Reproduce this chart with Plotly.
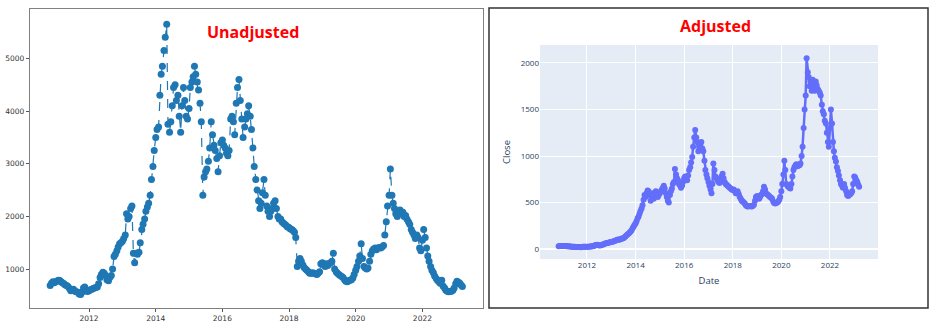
import pandas as pd
import plotly.graph_objects as go

# Semi-monthly closing prices (1st and 15th of each month), Nov 2010 - Mar 2023
close_unadjusted = (
    [690, 730, 760, 740]  # 2010 (Nov-Dec)
    + [760, 775, 790, 785, 760, 740, 720, 700, 690, 670, 630, 590,
       600, 620, 580, 570, 560, 530, 520, 560, 640, 660, 590, 575]  # 2011
    + [590, 610, 620, 630, 640, 650, 660, 720, 840, 900, 940, 920,
       880, 800, 780, 840, 880, 1000, 1240, 1280, 1350, 1420, 1480, 1500]  # 2012
    + [1530, 1580, 1650, 2050, 1950, 2000, 2150, 2200, 1300, 1120, 1300, 1280,
       1320, 1500, 1750, 1850, 1950, 2100, 2180, 2250, 2400, 2700, 2950, 3250]  # 2013
    + [3500, 3650, 3700, 4300, 4700, 4850, 5150, 5400, 5650, 3750, 3600, 3800,
       4100, 4450, 4500, 4200, 4300, 3900, 3600, 4100, 4450, 4200, 3900, 3850]  # 2014
    + [4050, 4450, 4550, 4650, 4850, 4700, 4550, 4400, 4150, 3800, 2400, 2750,
       2850, 2900, 3050, 3300, 3800, 3550, 3350, 3250, 3100, 2850, 3150, 3400]  # 2015
    + [3450, 3350, 3300, 3200, 3150, 3250, 3850, 3900, 3800, 3550, 4150, 4450,
       4600, 4200, 3850, 3500, 3700, 3850, 3950, 4100, 3900, 3650, 3300, 2950]  # 2016
    + [2700, 2500, 2300, 2150, 2250, 2450, 2700, 2400, 2200, 2100, 2000, 2100,
       2150, 2250, 2300, 2150, 2000, 1950, 1950, 1900, 1870, 1850, 1830, 1800]  # 2017
    + [1790, 1760, 1750, 1730, 1700, 1600, 1050, 1150, 1200, 1150, 1080, 1030,
       1000, 980, 950, 920, 920, 930, 920, 910, 900, 920, 950, 1100]  # 2018
    + [1120, 1080, 1050, 1100, 1070, 1100, 1120, 1150, 1300, 1000, 950, 920,
       900, 880, 860, 840, 800, 770, 760, 780, 790, 800, 830, 900]  # 2019
    + [980, 1050, 1150, 1250, 1480, 1200, 1050, 1020, 1000, 1020, 1150, 1280,
       1350, 1380, 1400, 1370, 1400, 1410, 1400, 1420, 1450, 1650, 1900, 2200]  # 2020
    + [2400, 2900, 2400, 2250, 2150, 2050, 2000, 2100, 2120, 2050, 2080, 2000,
       2020, 1950, 1900, 1850, 1750, 1700, 1650, 1580, 1650, 1600, 1400, 1350]  # 2021
    + [1550, 1750, 1600, 1400, 1250, 1150, 1050, 980, 930, 870, 820, 790,
       760, 730, 790, 680, 640, 600, 580, 570, 575, 580, 600, 640]  # 2022
    + [720, 770, 750, 730, 700, 670]  # 2023 (Jan-Mar)
)

close_adjusted = (
    [30, 32, 33, 32]  # 2010 (Nov-Dec)
    + [32, 33, 33, 32, 31, 30, 29, 28, 27, 26, 25, 24,
       24, 23, 22, 22, 21, 21, 20, 22, 24, 25, 24, 24]  # 2011
    + [24, 25, 26, 27, 28, 29, 30, 34, 40, 44, 45, 42,
       40, 38, 40, 45, 50, 55, 60, 62, 65, 68, 70, 72]  # 2012
    + [75, 78, 82, 86, 90, 95, 100, 102, 100, 105, 110, 112,
       115, 125, 135, 145, 155, 165, 175, 185, 200, 220, 240, 258]  # 2013
    + [275, 300, 330, 350, 380, 410, 437, 470, 530, 580, 560, 600,
       630, 620, 580, 520, 560, 600, 540, 580, 620, 590, 560, 580]  # 2014
    + [600, 620, 640, 660, 680, 650, 600, 560, 520, 500, 580, 620,
       650, 700, 720, 860, 800, 760, 740, 700, 680, 660, 680, 720]  # 2015
    + [760, 780, 770, 740, 790, 850, 880, 930, 990, 1100, 1200, 1280,
       1200, 1150, 1050, 1100, 1130, 1150, 1080, 1050, 950, 850, 800, 760]  # 2016
    + [720, 680, 640, 600, 700, 920, 850, 780, 760, 740, 720, 710,
       720, 780, 810, 760, 720, 700, 690, 680, 670, 660, 650, 640]  # 2017
    + [635, 640, 620, 600, 610, 620, 590, 560, 540, 520, 510, 500,
       490, 470, 460, 458, 460, 462, 460, 458, 465, 475, 520, 560]  # 2018
    + [570, 560, 540, 560, 580, 590, 620, 670, 640, 600, 590, 580,
       570, 560, 550, 540, 510, 495, 490, 495, 500, 510, 530, 560]  # 2019
    + [620, 700, 800, 950, 850, 700, 680, 670, 660, 650, 700, 780,
       850, 880, 900, 910, 890, 900, 900, 920, 1000, 1100, 1300, 1500]  # 2020
    + [1650, 2050, 1900, 1850, 1750, 1800, 1700, 1820, 1750, 1700, 1800, 1760,
       1720, 1700, 1680, 1650, 1550, 1480, 1450, 1380, 1350, 1250, 1150, 1100]  # 2021
    + [1300, 1500, 1350, 1150, 1050, 980, 940, 880, 840, 790, 740, 700,
       680, 660, 700, 660, 620, 580, 570, 580, 590, 600, 620, 700]  # 2022
    + [780, 770, 740, 720, 690, 670]  # 2023 (Jan-Mar)
)

dates = pd.date_range("2010-11-01", periods=len(close_unadjusted), freq="SMS")

year_ticks = ["2012-01-01", "2014-01-01", "2016-01-01",
              "2018-01-01", "2020-01-01", "2022-01-01"]
year_labels = ["2012", "2014", "2016", "2018", "2020", "2022"]

W, H = 939, 335


def px_x(v):
    return v / W


def px_y(v):
    return 1 - v / H


fig = go.Figure()

# Left panel: raw close prices, dots joined by a dashed line
fig.add_trace(go.Scatter(
    x=dates, y=close_unadjusted, mode="lines+markers",
    line=dict(color="#1f77b4", width=1.2, dash="dash"),
    marker=dict(color="#1f77b4", size=7),
    xaxis="x", yaxis="y", showlegend=False,
))

# Right panel: adjusted close prices
fig.add_trace(go.Scatter(
    x=dates, y=close_adjusted, mode="lines+markers",
    line=dict(color="#636efa", width=2.5),
    marker=dict(color="#636efa", size=6),
    xaxis="x2", yaxis="y2", showlegend=False,
))

frame = "#808080"
fig.update_layout(
    width=W, height=H,
    margin=dict(l=0, r=0, t=0, b=0),
    paper_bgcolor="white", plot_bgcolor="white",
    xaxis=dict(
        domain=[px_x(30), px_x(483)],
        range=["2010-03-25", "2023-10-27"],
        tickvals=year_ticks, ticktext=year_labels,
        showgrid=False, zeroline=False,
        showline=True, mirror=True, linecolor=frame, linewidth=1.3,
        ticks="outside", ticklen=3, tickcolor="#555",
        tickfont=dict(family="DejaVu Sans", size=7.5, color="#333"),
    ),
    yaxis=dict(
        domain=[px_y(308), px_y(9)],
        range=[262, 5938],
        tickvals=[1000, 2000, 3000, 4000, 5000],
        showgrid=False, zeroline=False,
        showline=True, mirror=True, linecolor=frame, linewidth=1.3,
        ticks="outside", ticklen=3, tickcolor="#555",
        tickfont=dict(family="DejaVu Sans", size=7.5, color="#333"),
    ),
    xaxis2=dict(
        domain=[px_x(540), px_x(878)],
        range=["2010-01-25", "2023-12-24"],
        tickvals=year_ticks, ticktext=year_labels,
        showgrid=True, gridcolor="white", gridwidth=1,
        zeroline=False, showline=False, ticks="",
        tickfont=dict(family="Open Sans", size=8, color="#2a3f5f"),
        title=dict(text="Date", font=dict(family="Open Sans", size=9.5, color="#2a3f5f"),
                   standoff=8),
        anchor="y2",
    ),
    yaxis2=dict(
        domain=[px_y(259), px_y(45)],
        range=[-107, 2193],
        tickvals=[0, 500, 1000, 1500, 2000],
        showgrid=True, gridcolor="white", gridwidth=1,
        zeroline=True, zerolinecolor="white", zerolinewidth=2,
        showline=False, ticks="",
        tickfont=dict(family="Open Sans", size=8, color="#2a3f5f"),
        title=dict(text="Close", font=dict(family="Open Sans", size=9.5, color="#2a3f5f"),
                   standoff=8),
        anchor="x2",
    ),
    shapes=[
        # plot background of the right panel
        dict(type="rect", xref="x2 domain", yref="y2 domain",
             x0=0, x1=1, y0=0, y1=1, fillcolor="#E5ECF6",
             line=dict(width=0), layer="below"),
        # border around the right panel
        dict(type="rect", xref="paper", yref="paper",
             x0=px_x(489), x1=px_x(928), y0=px_y(308), y1=px_y(8),
             line=dict(color="#333333", width=1.5), fillcolor="rgba(0,0,0,0)"),
    ],
    annotations=[
        dict(text="<b>Unadjusted</b>", xref="paper", yref="paper",
             x=px_x(253), y=px_y(32), xanchor="center", yanchor="middle",
             showarrow=False, font=dict(family="Open Sans", size=16, color="#ff0000")),
        dict(text="<b>Adjusted</b>", xref="paper", yref="paper",
             x=px_x(715), y=px_y(26), xanchor="center", yanchor="middle",
             showarrow=False, font=dict(family="Open Sans", size=16, color="#ff0000")),
    ],
)

fig.write_html("out.html")
